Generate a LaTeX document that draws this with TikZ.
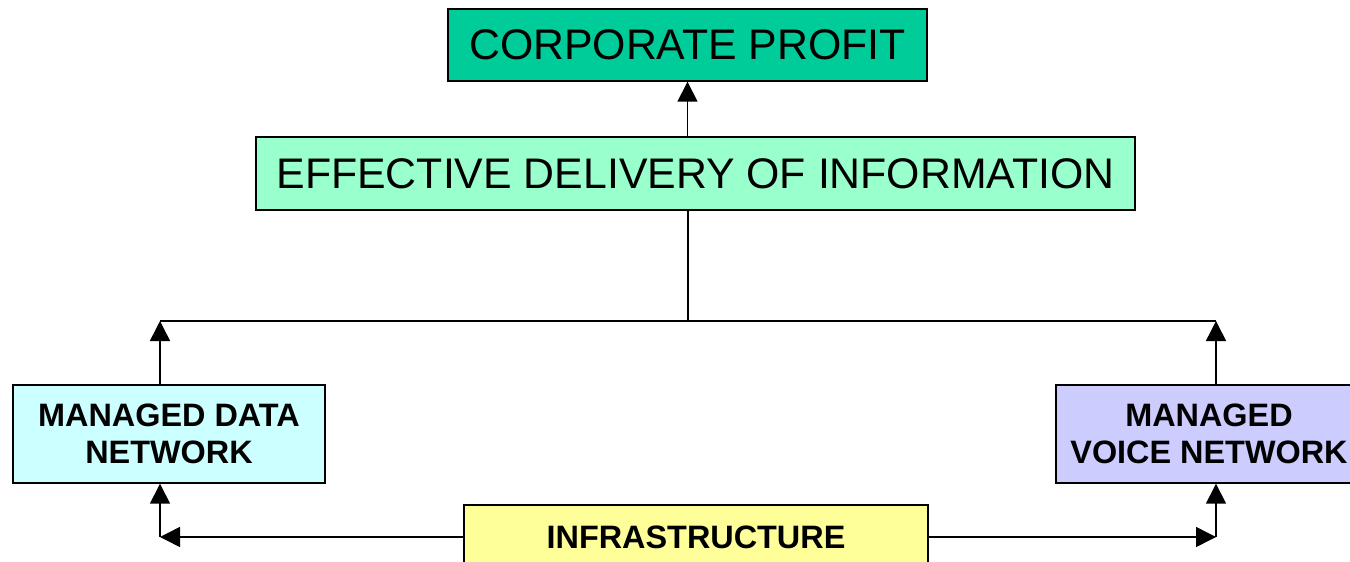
\documentclass[tikz,border=0pt]{standalone}
\usepackage{fontspec}
\setmainfont{Liberation Sans}
\usetikzlibrary{arrows.meta}
\definecolor{corpc}{HTML}{00CC99}
\definecolor{effc}{HTML}{99FFCC}
\definecolor{datac}{HTML}{CCFFFF}
\definecolor{voicec}{HTML}{CCCCFF}
\definecolor{infrac}{HTML}{FFFF99}
\tikzset{
  box/.style={draw=black, line width=1.4pt, inner sep=0pt, align=center, text=black},
  bigtxt/.style={font=\fontsize{42.8}{50}\selectfont},
  boldtxt/.style={font=\fontsize{32.4}{37}\selectfont\bfseries},
  arr/.style={line width=1.5pt, -{Triangle[length=20pt,width=20pt]}},
  ln/.style={line width=1.5pt}
}
\begin{document}
\begin{tikzpicture}[x=1pt,y=-1pt]
\useasboundingbox (0,0) rectangle (1350,562);
\clip (0,0) rectangle (1350,562);
\node[box, bigtxt, fill=corpc, minimum width=479pt, minimum height=72pt] (corp) at (687.5,45) {CORPORATE PROFIT};
\node[box, bigtxt, fill=effc, minimum width=879pt, minimum height=73pt] (eff) at (695.5,173.5) {EFFECTIVE DELIVERY OF INFORMATION};
\node[box, boldtxt, fill=datac, minimum width=312pt, minimum height=98pt] (data) at (169,434) {MANAGED DATA\\NETWORK};
\node[box, boldtxt, fill=voicec, minimum width=306pt, minimum height=98pt] (voice) at (1209,434) {MANAGED\\VOICE NETWORK};
\node[box, boldtxt, fill=infrac, minimum width=464pt, minimum height=64pt] (infra) at (696,537) {INFRASTRUCTURE};
\coordinate (jm) at (688,321);
\coordinate (jl) at (160,321);
\coordinate (jr) at (1216,321);
\coordinate (bl) at (160,537);
\coordinate (br) at (1216,537);
\draw[arr] (corp.south |- eff.north) -- (corp.south);
\draw[ln] (jm |- eff.south) -- (jm);
\draw[ln] (jl) -- (jr);
\draw[arr] (jl |- data.north) -- (jl);
\draw[arr] (jr |- voice.north) -- (jr);
\draw[arr] (infra.west) -- (bl);
\draw[arr] (bl) -- (bl |- data.south);
\draw[arr] (infra.east) -- (br);
\draw[arr] (br) -- (br |- voice.south);
\end{tikzpicture}
\end{document}
